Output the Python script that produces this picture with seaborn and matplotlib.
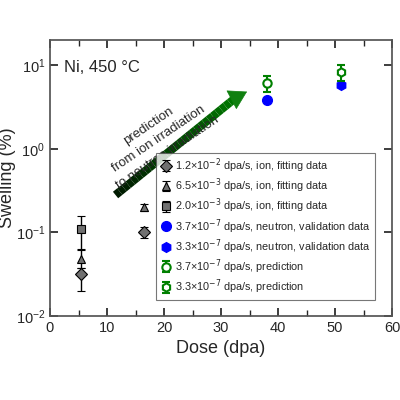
import numpy as np
import matplotlib
matplotlib.use("Agg")
import matplotlib.pyplot as plt
import seaborn as sns

# dados
dose_ion = [5.5, 16.5]
ion_12 = [0.032, 0.10]
ion_12_lo = [0.020, 0.085]
ion_12_hi = [0.038, 0.115]
ion_65 = [0.048, 0.20]
ion_65_lo = [0.038, 0.18]
ion_65_hi = [0.062, 0.22]
dose_sq = [5.5]
ion_20 = [0.11]
ion_20_lo = [0.063]
ion_20_hi = [0.155]
dose_neu = [38, 51]
neutron = [3.8, 5.8]
pred = [6.2, 8.3]
pred_lo = [4.8, 6.5]
pred_hi = [7.5, 10.0]

sns.set_theme(style="ticks")
plt.rcParams['font.family'] = ['Liberation Sans', 'DejaVu Sans']

fig = plt.figure(figsize=(4, 4), dpi=100)
ax = fig.add_axes([0.125, 0.21, 0.855, 0.69])

def err(v, lo, hi):
    v, lo, hi = map(np.array, (v, lo, hi))
    return [v - lo, hi - v]

gray = dict(color='#707070', markeredgecolor='black', markeredgewidth=0.8,
            ecolor='black', elinewidth=1, capsize=3, linestyle='none', markersize=6)
h = []
h.append(ax.errorbar(dose_ion, ion_12, yerr=err(ion_12, ion_12_lo, ion_12_hi), marker='D',
                     label='1.2×10$^{-2}$ dpa/s, ion, fitting data', **gray))
h.append(ax.errorbar(dose_ion, ion_65, yerr=err(ion_65, ion_65_lo, ion_65_hi), marker='^',
                     label='6.5×10$^{-3}$ dpa/s, ion, fitting data', **gray))
h.append(ax.errorbar(dose_sq, ion_20, yerr=err(ion_20, ion_20_lo, ion_20_hi), marker='s',
                     label='2.0×10$^{-3}$ dpa/s, ion, fitting data', **gray))
h += ax.plot(dose_neu[:1], neutron[:1], 'o', color='blue', markersize=7, linestyle='none',
             label='3.7×10$^{-7}$ dpa/s, neutron, validation data')
h += ax.plot(dose_neu[1:], neutron[1:], 'h', color='blue', markersize=7, linestyle='none',
             label='3.3×10$^{-7}$ dpa/s, neutron, validation data')
gr = dict(color='green', markerfacecolor='white', markeredgewidth=1.5, ecolor='green',
          capsize=3, linestyle='none', markersize=6)
h.append(ax.errorbar(dose_neu[:1], pred[:1], yerr=err(pred[:1], pred_lo[:1], pred_hi[:1]), marker='o',
                     label='3.7×10$^{-7}$ dpa/s, prediction', **gr))
h.append(ax.errorbar(dose_neu[1:], pred[1:], yerr=err(pred[1:], pred_lo[1:], pred_hi[1:]), marker='h',
                     label='3.3×10$^{-7}$ dpa/s, prediction', **gr))

# seta com gradiente preto -> verde
xs = np.linspace(11.5, 33, 30)
ys = 10 ** np.linspace(np.log10(0.28), np.log10(4.3), 30)
for i in range(len(xs) - 1):
    c = (0.0, 0.1 + 0.4 * i / len(xs), 0.0)
    ax.plot(xs[i:i + 2], ys[i:i + 2], color=c, lw=6, solid_capstyle='butt')
ax.annotate('', xy=(35, 5.0), xytext=(32, 3.9),
            arrowprops=dict(arrowstyle='-|>,head_width=0.6,head_length=1.0',
                            color='#108010', lw=0.5))

ax.text(2.5, 9.5, 'Ni, 450 °C', fontsize=12, va='center')
ax.text(19, 1.3, 'prediction\nfrom ion irradiation\nto neutron irradiation',
        fontsize=9.5, rotation=34, ha='center', va='center', linespacing=1.5)

ax.set_yscale('log')
ax.set_xlim(0, 60)
ax.set_ylim(0.01, 20)
ax.set_xticks(range(0, 61, 10))
ax.set_xticks(range(5, 60, 10), minor=True)
ax.tick_params(which='both', direction='in', top=True, right=True, labelsize=10.5)
ax.tick_params(axis='y', which='minor', left=False, right=False)
ax.set_xlabel('Dose (dpa)', fontsize=13)
ax.set_ylabel('Swelling (%)', fontsize=13, labelpad=0)
for s in ax.spines.values():
    s.set_color('#555555')

leg = ax.legend(handles=h, loc='lower right', fontsize=7.8, frameon=True, fancybox=False,
                edgecolor='#555555', borderpad=0.3, labelspacing=0.15,
                handletextpad=0.3, handlelength=1.2, bbox_to_anchor=(0.965, 0.04))
leg.get_frame().set_linewidth(0.8)
fig.savefig('out.png', dpi=100)
